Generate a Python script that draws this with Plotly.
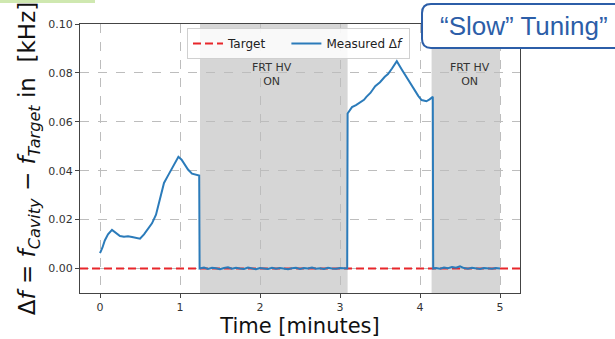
import plotly.graph_objects as go

# ---- data ----
time_min = [
    0.00, 0.03, 0.06, 0.10, 0.15, 0.20, 0.25, 0.30, 0.35, 0.40, 0.45, 0.50,
    0.55, 0.60, 0.65, 0.70, 0.75, 0.80, 0.85, 0.90, 0.95, 0.98, 1.02, 1.06,
    1.10, 1.15, 1.20, 1.24, 1.245,
    1.30, 1.35, 1.40, 1.45, 1.50, 1.55, 1.60, 1.65, 1.70, 1.75, 1.80, 1.85,
    1.90, 1.95, 2.00, 2.05, 2.10, 2.15, 2.20, 2.25, 2.30, 2.35, 2.40, 2.45,
    2.50, 2.55, 2.60, 2.65, 2.70, 2.75, 2.80, 2.85, 2.90, 2.95, 3.00, 3.05,
    3.09,
    3.095, 3.12, 3.15, 3.20, 3.25, 3.30, 3.33, 3.38, 3.44, 3.50, 3.56, 3.60,
    3.65, 3.71, 3.77, 3.83, 3.88, 3.94, 3.98, 4.02, 4.05, 4.08, 4.12, 4.16,
    4.165,
    4.20, 4.25, 4.30, 4.35, 4.40, 4.45, 4.50, 4.55, 4.60, 4.65, 4.70, 4.75,
    4.80, 4.85, 4.90, 4.95, 5.00,
]
delta_f = [
    0.0063, 0.0085, 0.0115, 0.0140, 0.0158, 0.0145, 0.0133, 0.0130, 0.0132,
    0.0129, 0.0127, 0.0122, 0.0140, 0.0162, 0.0185, 0.0220, 0.0285, 0.0350,
    0.0380, 0.0410, 0.0435, 0.0457, 0.0445, 0.0425, 0.0405, 0.0388, 0.0382,
    0.0380, 0.0000,
    0.0004, -0.0002, 0.0003, 0.0001, -0.0003, 0.0002, 0.0005, -0.0001,
    0.0003, 0.0000, -0.0002, 0.0004, 0.0001, -0.0003, 0.0002, 0.0000,
    -0.0002, 0.0003, -0.0001, 0.0002, 0.0000, -0.0003, 0.0001, 0.0003,
    -0.0002, 0.0002, 0.0000, 0.0004, -0.0001, 0.0001, -0.0002, 0.0003,
    0.0000, -0.0001, 0.0002, 0.0001,
    0.0000,
    0.0634, 0.0645, 0.0660, 0.0668, 0.0678, 0.0690, 0.0702, 0.0718, 0.0746,
    0.0762, 0.0784, 0.0795, 0.0818, 0.0848, 0.0815, 0.0784, 0.0755, 0.0729,
    0.0705, 0.0689, 0.0686, 0.0684, 0.0692, 0.0702,
    0.0000,
    0.0002, -0.0001, 0.0004, 0.0001, 0.0006, 0.0003, 0.0009, 0.0002,
    -0.0001, 0.0003, 0.0000, -0.0002, 0.0002, 0.0001, -0.0001, 0.0002,
    0.0000,
]
target_x = [-0.25, 5.25]
target_y = [0.0, 0.0]

hv_on_spans = [(1.25, 3.095), (4.145, 5.0)]
hv_label_x = [2.15, 4.62]
hv_label = "FRT HV<br>ON"

x_ticks = [0, 1, 2, 3, 4, 5]
y_ticks = [0.00, 0.02, 0.04, 0.06, 0.08, 0.10]

# ---- layout geometry ----
W, H = 615, 339
ML, MR, MT, MB = 80, 95, 24, 46
PW, PH = W - ML - MR, H - MT - MB


def px_x(X):
    return (X - ML) / PW


def px_y(Y):
    return (H - MB - Y) / PH


fig = go.Figure()

fig.add_trace(go.Scatter(
    x=target_x, y=target_y, mode="lines", name="Target" + "\u00a0" * 4,
    line=dict(color="#e8262b", width=2, dash="8px,4px"),
))
fig.add_trace(go.Scatter(
    x=time_min, y=delta_f, mode="lines", name="Measured Δ<i>f</i>",
    line=dict(color="#2b7bba", width=2),
))

for x0, x1 in hv_on_spans:
    fig.add_shape(type="rect", xref="x", yref="paper", x0=x0, x1=x1, y0=0, y1=1,
                  fillcolor="#d6d6d6", line_width=0, layer="below")

for xl in hv_label_x:
    fig.add_annotation(x=xl, y=0.0795, xref="x", yref="y", text=hv_label,
                       showarrow=False, font=dict(family="DejaVu Sans", size=11, color="#333"),
                       align="center")

# rounded title box
x0, x1 = px_x(422), px_x(640)
y0, y1 = px_y(48), px_y(4)
rx, ry = 9 / PW, 9 / PH
path = (f"M {x0+rx:.4f},{y1:.4f} L {x1:.4f},{y1:.4f} L {x1:.4f},{y0:.4f} L {x0+rx:.4f},{y0:.4f} "
        f"Q {x0:.4f},{y0:.4f} {x0:.4f},{y0+ry:.4f} L {x0:.4f},{y1-ry:.4f} "
        f"Q {x0:.4f},{y1:.4f} {x0+rx:.4f},{y1:.4f} Z")
fig.add_shape(type="path", xref="paper", yref="paper", path=path,
              fillcolor="white", line=dict(color="#2c5ea8", width=2), layer="above")
fig.add_annotation(x=px_x(524), y=px_y(26), xref="paper", yref="paper",
                   xanchor="center", yanchor="middle",
                   text="“Slow” Tuning”", showarrow=False,
                   font=dict(family="Liberation Sans", size=26, color="#2c5ea8"))

# small green artifact top-left
fig.add_shape(type="rect", xref="paper", yref="paper", x0=px_x(0), x1=px_x(95),
              y0=px_y(3), y1=px_y(0), fillcolor="#cfe8b0", line_width=0, layer="above")

axis_common = dict(
    showline=True, linecolor="#444", linewidth=1, mirror=True,
    ticks="outside", ticklen=4, tickcolor="#444",
    showgrid=True, gridcolor="#bdbdbd", griddash="dash", gridwidth=1,
    zeroline=False, automargin=False,
    tickfont=dict(family="DejaVu Sans", size=11, color="#333"),
)

fig.update_xaxes(range=[-0.25, 5.25], tickvals=x_ticks,
                 title=dict(text="Time [minutes]", font=dict(family="DejaVu Sans", size=21, color="#111"),
                            standoff=2),
                 **axis_common)
fig.update_yaxes(range=[-0.01, 0.10], tickvals=y_ticks, tickformat=".2f",
                 title=dict(text="Δ<i>f</i> = <i>f</i><sub><i>Cavity</i></sub> − <i>f</i><sub><i>Target</i></sub> in  [kHz]",
                            font=dict(family="DejaVu Sans", size=23, color="#111"), standoff=6),
                 **axis_common)

fig.update_layout(
    width=W, height=H,
    margin=dict(l=ML, r=MR, t=MT, b=MB),
    paper_bgcolor="white", plot_bgcolor="white",
    showlegend=True,
    legend=dict(orientation="h", x=px_x(187), y=px_y(28), xanchor="left", yanchor="top",
                bgcolor="rgba(255,255,255,0.85)", bordercolor="#d0d0d0", borderwidth=1,
                font=dict(family="DejaVu Sans", size=12, color="#222")),
)

fig.write_html("out.html", config={"displayModeBar": False},
               post_script="document.body.style.margin='0';document.body.style.overflow='hidden';")
